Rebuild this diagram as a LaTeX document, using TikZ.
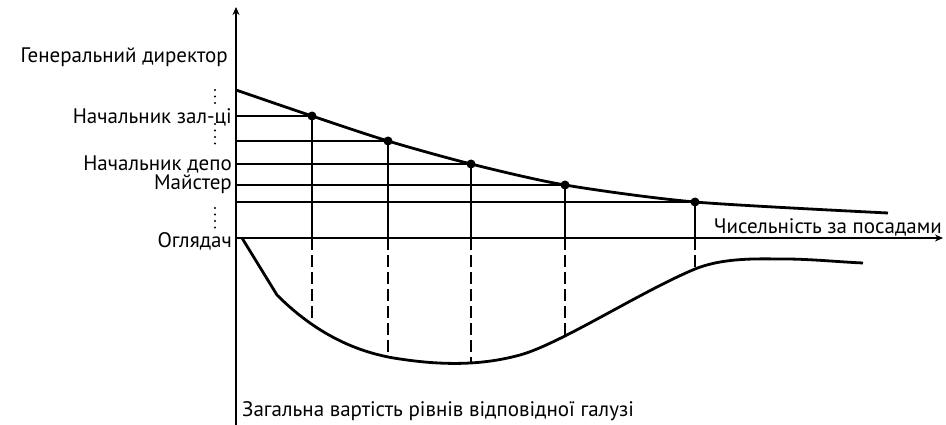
\documentclass[tikz,border=0pt]{standalone}
\usepackage{fontspec}
\setmainfont{PT Sans}
\usetikzlibrary{arrows.meta, positioning, calc}
\tikzset{
  axis/.style   = {line width=1.8pt, -{Stealth[length=8pt, width=7pt]}},
  grid/.style   = {line width=1.8pt},
  drop/.style   = {line width=1.8pt},
  dashdrop/.style = {line width=1.8pt, dash pattern=on 12pt off 5pt},
  curve/.style  = {line width=2.8pt, line join=round},
  lbl/.style    = {inner sep=0pt, font=\fontsize{21}{24}\selectfont},
  knot/.style   = {circle, fill, inner sep=0pt, minimum size=9pt}
}
\newcommand{\rankdots}[2]{%
  \foreach \k in {0,...,#2} \fill (215, #1+\k*6.5) circle (1.2pt);
}

\begin{document}
\begin{tikzpicture}[x=1pt, y=-1pt]
  \useasboundingbox (0,0) rectangle (946,425);

  %%──────────────────────────────────────────────────────────────────────────
  %%  AXES
  %%──────────────────────────────────────────────────────────────────────────
  \coordinate (O)    at (236,238);
  \coordinate (ytop) at (236,7);
  \coordinate (ybot) at (236,425);
  \coordinate (xend) at (943,238);

  \draw[axis] (ybot) -- (ytop);
  \draw[axis] (O)    -- (xend);

  %%──────────────────────────────────────────────────────────────────────────
  %%  UPPER CURVE (rank levels)
  %%──────────────────────────────────────────────────────────────────────────
  \coordinate (u0) at (236,90);
  \coordinate (u1) at (312,116);
  \coordinate (u2) at (388,141);
  \coordinate (u3) at (471,164);
  \coordinate (u4) at (565,185);
  \coordinate (u5) at (695,202);
  \coordinate (u6) at (888,213);

  \draw[curve] plot[smooth, tension=0.45] coordinates
        {(u0) (u1) (u2) (u3) (u4) (u5) (u6)};

  %%──────────────────────────────────────────────────────────────────────────
  %%  LOWER CURVE (total cost)
  %%──────────────────────────────────────────────────────────────────────────
  \coordinate (c0) at (242,238);
  \coordinate (ck) at (277,295);
  \coordinate (c1) at (312,325);
  \coordinate (c2) at (388,357);
  \coordinate (c3) at (471,363);
  \coordinate (c4) at (565,336);
  \coordinate (c5) at (695,269);
  \coordinate (c6) at (863,263);

  \draw[curve] (c0) -- (ck)
        .. controls (310,328) and (350,352) .. (400,359)
        .. controls (440,365) and (480,366) .. (520,355)
        .. controls (560,344) and (640,292) .. (c5)
        .. controls (725,257) and (760,259) .. (785,259)
        .. controls (810,259) and (840,262) .. (c6);

  %%──────────────────────────────────────────────────────────────────────────
  %%  LEVEL LINES AND DROPS
  %%──────────────────────────────────────────────────────────────────────────
  \foreach \i in {1,...,5} {
    \coordinate (a\i) at (O |- u\i);
    \coordinate (h\i) at (O -| u\i);
    \draw[grid]     (a\i) -- (u\i);
    \draw[drop]     (u\i) -- (h\i);
    \draw[dashdrop] (h\i) -- (c\i);
    \node[knot] at (u\i) {};
  }

  %%──────────────────────────────────────────────────────────────────────────
  %%  LABELS
  %%──────────────────────────────────────────────────────────────────────────
  \node[lbl, anchor=east] (gd) at (228,57)  {Генеральний директор};
  \node[lbl, anchor=east] (nz) at (232,117) {Начальник зал-ці};
  \node[lbl, anchor=east] (nd) at (232,164) {Начальник депо};
  \node[lbl, anchor=east] (ms) at (232,184) {Майстер};
  \node[lbl, anchor=east] (og) at (232,241) {Оглядач};
  \node[lbl, anchor=east] (xl) at (942,227) {Чисельність за посадами};
  \node[lbl, anchor=west] (yl) at (242,411) {Загальна вартість рівнів відповідної галузі};

  %% omitted ranks
  \rankdots{90}{2}
  \rankdots{124}{3}
  \rankdots{208}{3}

\end{tikzpicture}
\end{document}
